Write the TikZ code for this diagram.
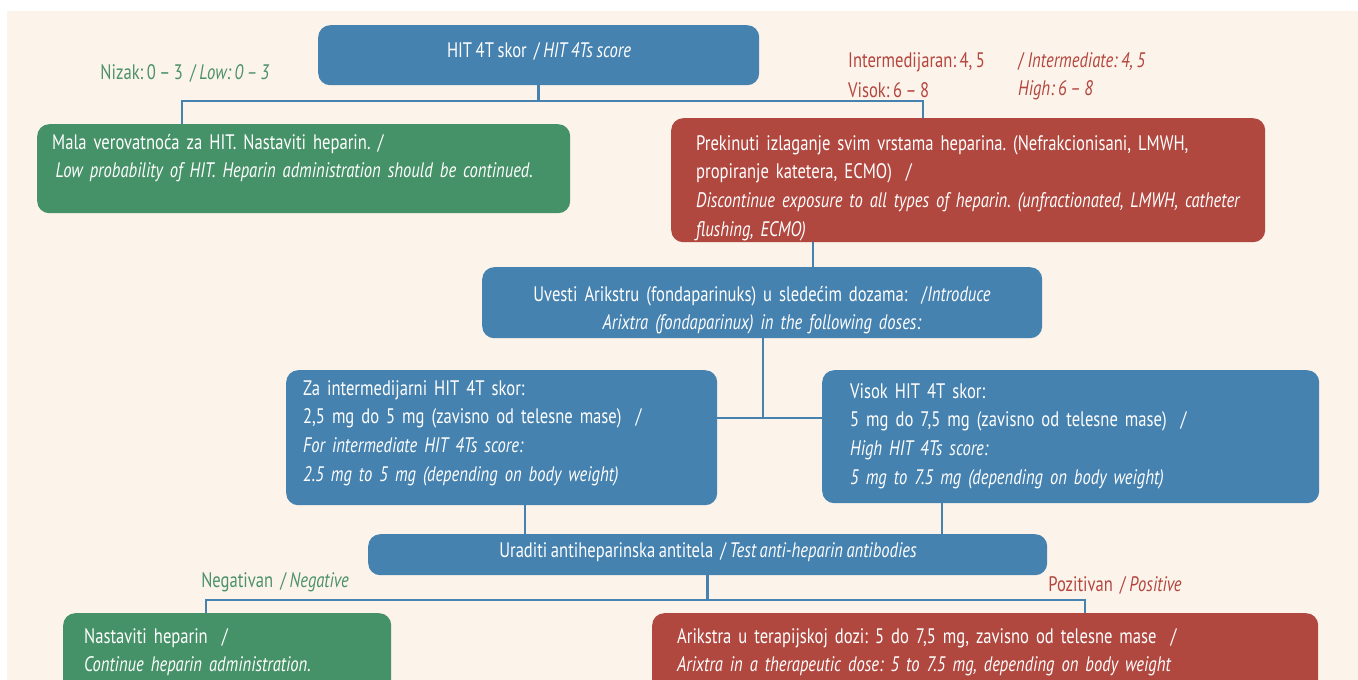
\documentclass[tikz,border=0pt]{standalone}
\usepackage{fontspec}
\setmainfont{PT Sans}[FakeStretch=0.79, WordSpace=0.8]
\frenchspacing
\definecolor{bgcream}{RGB}{252,243,234}
\definecolor{hitblue}{RGB}{70,130,175}
\definecolor{hitgreen}{RGB}{70,146,104}
\definecolor{hitred}{RGB}{176,72,64}
\definecolor{txtgreen}{RGB}{75,145,105}
\definecolor{txtred}{RGB}{180,70,62}
\tikzset{
  x=1pt, y=-1pt,
  box/.style={rectangle, rounded corners=12pt, draw=none, inner sep=0pt, anchor=north west},
  bluebox/.style={box, fill=hitblue},
  greenbox/.style={box, fill=hitgreen},
  redbox/.style={box, fill=hitred},
  boxtext/.style={text=white, inner sep=0pt, font=\fontsize{21}{28.7}\selectfont},
  ltext/.style={boxtext, anchor=base west, align=left, text width=#1},
  lbl/.style={inner sep=0pt, font=\fontsize{21}{28.5}\selectfont},
  conn/.style={draw=hitblue, line width=2.6pt}
}
\begin{document}
\begin{tikzpicture}
\useasboundingbox (0,0) rectangle (1358,680);
\clip (0,0) rectangle (1358,680);
\fill[white] (0,0) rectangle (1358,680);
\fill[bgcream] (7,11) rectangle (1358,680);

% top
\node[bluebox, minimum width=441pt, minimum height=60pt] (top) at (318,25) {};
\node[boxtext] (topT) at (539,51) {HIT 4T skor\ \ / \textit{HIT 4Ts score}};
\node[lbl, text=txtgreen] (lowL) at (185,73) {Nizak: 0 – 3\ \ / \textit{Low: 0 – 3}};
\node[lbl, text=txtred, anchor=west] (intL) at (848,62) {Intermedijaran: 4, 5};
\node[lbl, text=txtred, anchor=west] (intE) at (1018,62) {/ \textit{Intermediate: 4, 5}};
\node[lbl, text=txtred, anchor=west] (higL) at (848,90) {Visok: 6 – 8};
\node[lbl, text=txtred, anchor=west] (higE) at (1018,90) {\textit{High: 6 – 8}};

% level 1
\node[greenbox, minimum width=533pt, minimum height=89pt] (g1) at (37,124) {};
\node[ltext=510pt] (g1T) at (52,149) {Mala verovatnoća za HIT. Nastaviti heparin. /\\ \textit{\,Low probability of HIT. Heparin administration should be continued.}};
\node[redbox, minimum width=594pt, minimum height=124pt] (r1) at (671,118) {};
\node[ltext=570pt] (r1T) at (696,150) {Prekinuti izlaganje svim vrstama heparina. (Nefrakcionisani, LMWH,\\ propiranje katetera, ECMO)\ \ /\\ \textit{Discontinue exposure to all types of heparin. (unfractionated, LMWH, catheter}\\ \textit{flushing, ECMO)}};

% Arixtra
\node[bluebox, minimum width=560pt, minimum height=71pt] (ari) at (482,267) {};
\node[boxtext, anchor=base, align=center, text width=540pt] (ariT) at (762,301) {Uvesti Arikstru (fondaparinuks) u sledećim dozama:\ \ /\textit{Introduce}\\ \textit{Arixtra (fondaparinux) in the following doses:}};

% doses
\node[bluebox, minimum width=431pt, minimum height=135pt] (d1) at (286,370) {};
\node[ltext=410pt] (d1T) at (303,395) {Za intermedijarni HIT 4T skor:\\ 2,5 mg do 5 mg (zavisno od telesne mase)\ \ /\\ \textit{For intermediate HIT 4Ts score:}\\ \textit{2.5 mg to 5 mg (depending on body weight)}};
\node[bluebox, minimum width=497pt, minimum height=133pt] (d2) at (822,370) {};
\node[ltext=460pt] (d2T) at (850,398) {Visok HIT 4T skor:\\ 5 mg do 7,5 mg (zavisno od telesne mase)\ \ /\\ \textit{High HIT 4Ts score:}\\ \textit{5 mg to 7.5 mg (depending on body weight)}};

% test
\node[bluebox, minimum width=679pt, minimum height=41pt] (ur) at (368,534) {};
\node[boxtext] (urT) at (708,552) {Uraditi antiheparinska antitela\ \ / \textit{Test anti-heparin antibodies}};
\node[lbl, text=txtgreen] (negL) at (275,582) {Negativan\ \ / \textit{Negative}};
\node[lbl, text=txtred] (posL) at (1115,585) {Pozitivan\ \ / \textit{Positive}};

% bottom
\node[greenbox, minimum width=328pt, minimum height=90pt] (g2) at (63,613) {};
\node[ltext=300pt] (g2T) at (84,643) {Nastaviti heparin\ \ /\\ \textit{Continue heparin administration.}};
\node[redbox, minimum width=666pt, minimum height=90pt] (r2) at (652,613) {};
\node[ltext=640pt] (r2T) at (677,643) {Arikstra u terapijskoj dozi: 5 do 7,5 mg, zavisno od telesne mase\ \ /\\ \textit{Arixtra in a therapeutic dose: 5 to 7.5 mg, depending on body weight}};

% connectors
\coordinate (b1L) at (182,101);
\coordinate (b1R) at (923,101);
\draw[conn] (top.south) -- (top.south |- b1L);
\draw[conn] (g1.north -| b1L) -- (b1L) -- (b1R) -- (r1.north -| b1R);
\coordinate (c2) at (813,0);
\draw[conn] (r1.south -| c2) -- (ari.north -| c2);
\coordinate (b2) at (763,418);
\draw[conn] (ari.south -| b2) -- (b2);
\draw[conn] (d1.east |- b2) -- (d2.west |- b2);
\coordinate (c3) at (525,0);
\coordinate (c4) at (942,0);
\draw[conn] (d1.south -| c3) -- (ur.north -| c3);
\draw[conn] (d2.south -| c4) -- (ur.north -| c4);
\coordinate (b3L) at (206,600);
\coordinate (b3R) at (1085,600);
\draw[conn] (ur.south) -- (ur.south |- b3L);
\draw[conn] (g2.north -| b3L) -- (b3L) -- (b3R) -- (r2.north -| b3R);
\end{tikzpicture}
\end{document}
